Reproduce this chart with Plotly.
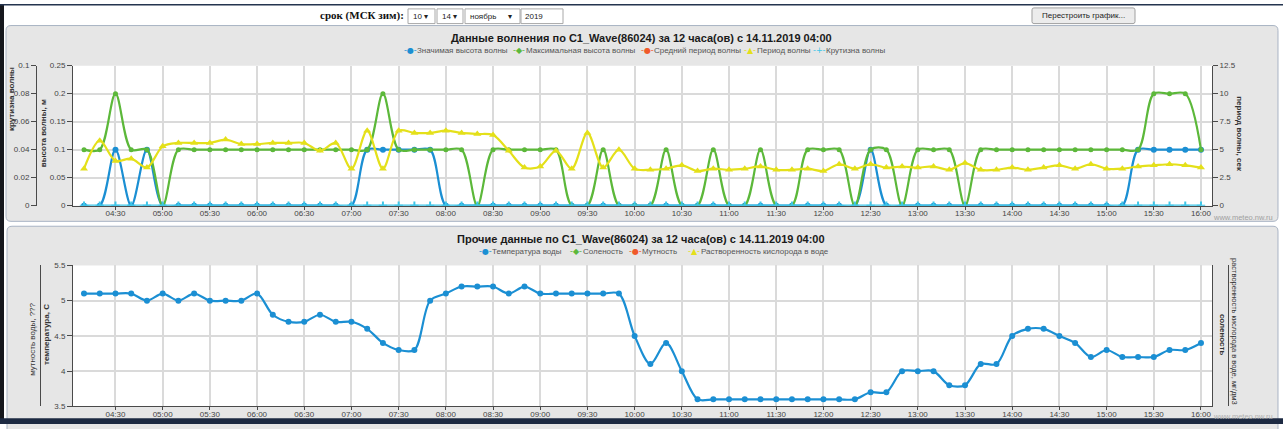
import plotly.graph_objects as go

W, H = 1283, 429

# ---- data: 10-minute readings, 14.11.2019 04:10 .. 16:00 ----
times = [
    "04:10", "04:20", "04:30", "04:40", "04:50", "05:00", "05:10", "05:20", "05:30", "05:40", "05:50", "06:00",
    "06:10", "06:20", "06:30", "06:40", "06:50", "07:00", "07:10", "07:20", "07:30", "07:40", "07:50", "08:00",
    "08:10", "08:20", "08:30", "08:40", "08:50", "09:00", "09:10", "09:20", "09:30", "09:40", "09:50", "10:00",
    "10:10", "10:20", "10:30", "10:40", "10:50", "11:00", "11:10", "11:20", "11:30", "11:40", "11:50", "12:00",
    "12:10", "12:20", "12:30", "12:40", "12:50", "13:00", "13:10", "13:20", "13:30", "13:40", "13:50", "14:00",
    "14:10", "14:20", "14:30", "14:40", "14:50", "15:00", "15:10", "15:20", "15:30", "15:40", "15:50", "16:00",
]

# significant wave height, m
sig_height = [
    0, 0, 0.1, 0, 0.1, 0, 0, 0, 0, 0, 0, 0,
    0, 0, 0, 0, 0, 0, 0.1, 0.1, 0.1, 0.1, 0.1, 0,
    0, 0, 0, 0, 0, 0, 0, 0, 0, 0, 0, 0,
    0, 0, 0, 0, 0, 0, 0, 0, 0, 0, 0, 0,
    0, 0, 0.1, 0, 0, 0, 0, 0, 0, 0, 0, 0,
    0, 0, 0, 0, 0, 0, 0, 0.1, 0.1, 0.1, 0.1, 0.1,
]

# maximum wave height, m
max_height = [
    0.1, 0.1, 0.2, 0.1, 0.1, 0, 0.1, 0.1, 0.1, 0.1, 0.1, 0.1,
    0.1, 0.1, 0.1, 0.1, 0.1, 0.1, 0.1, 0.2, 0.1, 0.1, 0.1, 0.1,
    0.1, 0, 0.1, 0.1, 0.1, 0.1, 0.1, 0, 0, 0.1, 0, 0,
    0, 0.1, 0, 0, 0.1, 0, 0, 0.1, 0, 0, 0.1, 0.1,
    0.1, 0, 0.1, 0.1, 0, 0.1, 0.1, 0.1, 0, 0.1, 0.1, 0.1,
    0.1, 0.1, 0.1, 0.1, 0.1, 0.1, 0.1, 0.1, 0.2, 0.2, 0.2, 0.1,
]

# mean wave period, s (no readings in this interval)
mean_period = []

# wave period, s
wave_period = [
    3.3, 5.8, 4.0, 4.2, 3.4, 5.3, 5.6, 5.6, 5.6, 5.9, 5.5, 5.5,
    5.6, 5.6, 5.6, 4.9, 5.6, 3.3, 6.7, 3.3, 6.7, 6.5, 6.5, 6.7,
    6.5, 6.4, 6.3, 4.9, 3.4, 3.5, 4.9, 3.3, 6.5, 3.4, 5.0, 3.3,
    3.2, 3.3, 3.6, 3.1, 3.3, 3.2, 3.3, 3.5, 3.2, 3.2, 3.3, 3.1,
    3.7, 3.3, 3.7, 3.4, 3.5, 3.4, 3.5, 3.2, 3.8, 3.2, 3.2, 3.4,
    3.2, 3.4, 3.6, 3.3, 3.7, 3.3, 3.3, 3.5, 3.6, 3.7, 3.6, 3.4,
]

# wave steepness
steepness = [
    0, 0, 0, 0, 0, 0, 0, 0, 0, 0, 0, 0,
    0, 0, 0, 0, 0, 0, 0, 0, 0, 0, 0, 0,
    0, 0, 0, 0, 0, 0, 0, 0, 0, 0, 0, 0,
    0, 0, 0, 0, 0, 0, 0, 0, 0, 0, 0, 0,
    0, 0, 0, 0, 0, 0, 0, 0, 0, 0, 0, 0,
    0, 0, 0, 0, 0, 0, 0, 0, 0, 0, 0, 0,
]

# water temperature, C
water_temp = [
    5.1, 5.1, 5.1, 5.1, 5.0, 5.1, 5.0, 5.1, 5.0, 5.0, 5.0, 5.1,
    4.8, 4.7, 4.7, 4.8, 4.7, 4.7, 4.6, 4.4, 4.3, 4.3, 5.0, 5.1,
    5.2, 5.2, 5.2, 5.1, 5.2, 5.1, 5.1, 5.1, 5.1, 5.1, 5.1, 4.5,
    4.1, 4.4, 4.0, 3.6, 3.6, 3.6, 3.6, 3.6, 3.6, 3.6, 3.6, 3.6,
    3.6, 3.6, 3.7, 3.7, 4.0, 4.0, 4.0, 3.8, 3.8, 4.1, 4.1, 4.5,
    4.6, 4.6, 4.5, 4.4, 4.2, 4.3, 4.2, 4.2, 4.2, 4.3, 4.3, 4.4,
]

# series with no readings in this interval
salinity = []
turbidity = []
oxygen = []

day = "2019-11-14 "
X = [day + t for t in times]

BLUE = "#1b8fd3"
GREEN = "#5cb83a"
ORANGE = "#f0592a"
YELLOW = "#e4e01a"
CYAN = "#3ec6e8"
AXIS = "#4a4a4a"
TICKTXT = "#444444"
GRID = "#dadada"
FONT = "Liberation Sans"


def fx(p):
    return p / W


def fy(p):
    return 1 - p / H


def line_trace(x, y, color, symbol, size, xa, ya, mline=0):
    return go.Scatter(
        x=x, y=y, xaxis=xa, yaxis=ya, mode="lines+markers",
        line=dict(color=color, width=2.2, shape="spline", smoothing=0.9),
        marker=dict(color=color, symbol=symbol, size=size,
                    line=dict(color=color, width=mline)),
        showlegend=False, hoverinfo="x+y",
    )


fig = go.Figure()

# wave chart
fig.add_trace(line_trace(X, sig_height, BLUE, "circle", 6, "x", "y"))
fig.add_trace(line_trace(X, max_height, GREEN, "circle", 5, "x", "y"))
fig.add_trace(line_trace(X[:len(mean_period)], mean_period, ORANGE, "circle", 5, "x", "y"))
fig.add_trace(line_trace(X, wave_period, YELLOW, "triangle-up", 7, "x", "y3"))
fig.add_trace(line_trace(X, steepness, CYAN, "cross-thin", 6, "x", "y2", 2))

# other measurements chart
fig.add_trace(line_trace(X, water_temp, BLUE, "circle", 6, "x2", "y4"))
fig.add_trace(line_trace(X[:len(salinity)], salinity, GREEN, "circle", 5, "x2", "y6"))
fig.add_trace(line_trace(X[:len(turbidity)], turbidity, ORANGE, "circle", 5, "x2", "y5"))
fig.add_trace(line_trace(X[:len(oxygen)], oxygen, YELLOW, "triangle-up", 7, "x2", "y7"))

PX0, PX1 = 73, 1212
TOP_Y0, TOP_Y1 = 63, 206
BOT_Y0, BOT_Y1 = 267, 411

x_common = dict(
    type="date", domain=[fx(PX0), fx(PX1)],
    range=[day + "04:03", day + "16:07"],
    tick0=day + "04:30", dtick=30 * 60 * 1000, tickformat="%H:%M",
    showgrid=True, gridcolor=GRID, gridwidth=1.5,
    showline=True, linecolor=AXIS, linewidth=1,
    ticks="outside", ticklen=3, tickcolor=AXIS, ticklabelstandoff=-3,
    tickfont=dict(family=FONT, size=8, color=TICKTXT),
    zeroline=False, fixedrange=True,
)
y_tick = dict(
    showline=True, linecolor=AXIS, linewidth=1, ticks="outside", ticklen=5,
    tickcolor=AXIS, tickfont=dict(family=FONT, size=8, color=TICKTXT),
    zeroline=False, fixedrange=True,
)

fig.update_layout(
    width=W, height=H, margin=dict(l=0, r=0, t=0, b=0),
    paper_bgcolor="white", plot_bgcolor="white",
    showlegend=False,
    font=dict(family=FONT, color="#333333"),
    xaxis=dict(anchor="y", **x_common),
    yaxis=dict(domain=[fy(TOP_Y1), fy(TOP_Y0)], range=[0, 0.25], dtick=0.05,
               showgrid=True, gridcolor=GRID, gridwidth=1.5, **y_tick),
    yaxis2=dict(overlaying="y", anchor="free", position=fx(36), side="left",
                range=[0, 0.1], dtick=0.02, showgrid=False, **y_tick),
    yaxis3=dict(overlaying="y", anchor="x", side="right", range=[0, 12.5], dtick=2.5,
                showgrid=False, **y_tick),
    xaxis2=dict(anchor="y4", **x_common),
    yaxis4=dict(domain=[fy(BOT_Y1), fy(BOT_Y0)], range=[3.5, 5.5], dtick=0.5,
                showgrid=True, gridcolor=GRID, gridwidth=1.5, **y_tick),
    yaxis5=dict(overlaying="y4", anchor="free", position=fx(40), side="left",
                showline=True, linecolor=AXIS, showticklabels=False, ticks="",
                showgrid=False, zeroline=False, fixedrange=True),
    yaxis6=dict(overlaying="y4", anchor="x2", side="right",
                showline=True, linecolor=AXIS, showticklabels=False, ticks="",
                showgrid=False, zeroline=False, fixedrange=True),
    yaxis7=dict(overlaying="y4", anchor="free", position=fx(1228), side="right",
                showline=True, linecolor=AXIS, showticklabels=False, ticks="",
                showgrid=False, zeroline=False, fixedrange=True),
)


def rrect(x0, y0, x1, y1, r):
    pts = [
        ("M", [(x0 + r, y0)]), ("L", [(x1 - r, y0)]), ("Q", [(x1, y0), (x1, y0 + r)]),
        ("L", [(x1, y1 - r)]), ("Q", [(x1, y1), (x1 - r, y1)]), ("L", [(x0 + r, y1)]),
        ("Q", [(x0, y1), (x0, y1 - r)]), ("L", [(x0, y0 + r)]), ("Q", [(x0, y0), (x0 + r, y0)]),
    ]
    out = []
    for cmd, ps in pts:
        out.append(cmd + " ".join(f"{fx(a):.5f},{fy(b):.5f}" for a, b in ps))
    return " ".join(out) + " Z"


shapes = []


def box(x0, y0, x1, y1, fill, line=None, lw=1, r=0):
    if r:
        shapes.append(dict(type="path", xref="paper", yref="paper", layer="below",
                           path=rrect(x0, y0, x1, y1, r), fillcolor=fill,
                           line=dict(color=line or fill, width=lw if line else 0)))
    else:
        shapes.append(dict(type="rect", xref="paper", yref="paper", layer="below",
                           x0=fx(x0), x1=fx(x1), y0=fy(y1), y1=fy(y0), fillcolor=fill,
                           line=dict(color=line or fill, width=lw if line else 0)))


# chart panels
box(6, 22, 1278, 222, "#e6e6e6", "#a9b4c4", 1, 5)
box(7, 227, 1278, 445, "#e6e6e6", "#a9b4c4", 1, 5)
box(PX0, TOP_Y0, PX1, TOP_Y1, "white")
box(PX0, BOT_Y0, PX1, BOT_Y1, "white")

# form controls
box(408, 5, 435, 20, "white", "#a8a8a8")
box(437, 5, 463, 20, "white", "#a8a8a8")
box(465, 5, 520, 20, "white", "#a8a8a8")
box(521, 5, 563, 20, "white", "#a8a8a8")
box(1032, 4, 1135, 20, "#ececec", "#a0a0a0", 1, 2)

# window frame
box(0, 0, 4, 429, "#16181d")
box(0, 0, 1283, 1.5, "#24344f")
box(0, 423, 1283, 429, "#1d2a42")
fig.update_layout(shapes=shapes)

ann = []


def text(x, y, s, size=8, color="#333333", xanchor="center", bold=False, angle=0,
         family=FONT, yanchor="middle"):
    ann.append(dict(xref="paper", yref="paper", x=fx(x), y=fy(y), text=f"<b>{s}</b>" if bold else s,
                    showarrow=False, xanchor=xanchor, yanchor=yanchor, textangle=angle,
                    font=dict(size=size, color=color, family=family)))


# form labels
text(406, 12, "срок (МСК зим):", 11, "#111111", "right", True, family="Liberation Serif")
text(411, 12.5, "10 ▾", 8, "#222222", "left")
text(440, 12.5, "14 ▾", 8, "#222222", "left")
text(468, 12.5, "ноябрь&nbsp;&nbsp;&nbsp;&nbsp;&nbsp;▾", 8, "#222222", "left")
text(523, 12.5, "2019", 8, "#222222", "left")
text(1083, 12, "Перестроить график...", 8, "#222222")

# chart titles
text(641, 35, "Данные волнения по C1_Wave(86024) за 12 часа(ов) с 14.11.2019 04:00", 11, "#1a1a1a", bold=True)
text(641, 240, "Прочие данные по C1_Wave(86024) за 12 часа(ов) с 14.11.2019 04:00", 11, "#1a1a1a", bold=True)


def legend_item(x, y, glyph, color, label):
    text(x, y, glyph, 8, color, "left", family="DejaVu Sans")
    text(x + 13, y, label, 8, "#555555", "left")


legend_item(402, 47, "-●-", BLUE, "Значимая высота волны")
legend_item(511, 47, "-◆-", GREEN, "Максимальная высота волны")
legend_item(639, 47, "-●-", ORANGE, "Средний период волны")
legend_item(742, 47, "-▲-", YELLOW, "Период волны")
legend_item(811, 47, "-+-", CYAN, "Крутизна волны")

legend_item(477, 253, "-●-", BLUE, "Температура воды")
legend_item(568, 253, "-◆-", GREEN, "Соленость")
legend_item(627, 253, "-●-", ORANGE, "Мутность")
legend_item(686, 253, "-▲-", YELLOW, "Растворенность кислорода в воде")

# axis titles
text(12, 97, "крутизна волны", 8, "#333333", bold=True, angle=-90)
text(43, 132, "высота волны, м", 8, "#333333", bold=True, angle=-90)
text(1240, 133, "период волны, сек", 8, "#333333", bold=True, angle=90)
text(33, 343, "мутность воды, ???", 8, "#333333", angle=-90)
text(47, 338, "температура, С", 8, "#333333", bold=True, angle=-90)
text(1222, 338, "соленость", 8, "#333333", bold=True, angle=90)
text(1234, 334, "растворенность кислорода в воде, мг/дм3", 7.5, "#333333", angle=90)

# site marks
text(1275, 218, "www.meteo.nw.ru", 7.5, "#a0a0a0", "right")
text(1275, 421, "www.meteo.nw.ru", 7.5, "#b0b0b0", "right")

fig.update_layout(annotations=ann)

fig.write_html("out.html")
